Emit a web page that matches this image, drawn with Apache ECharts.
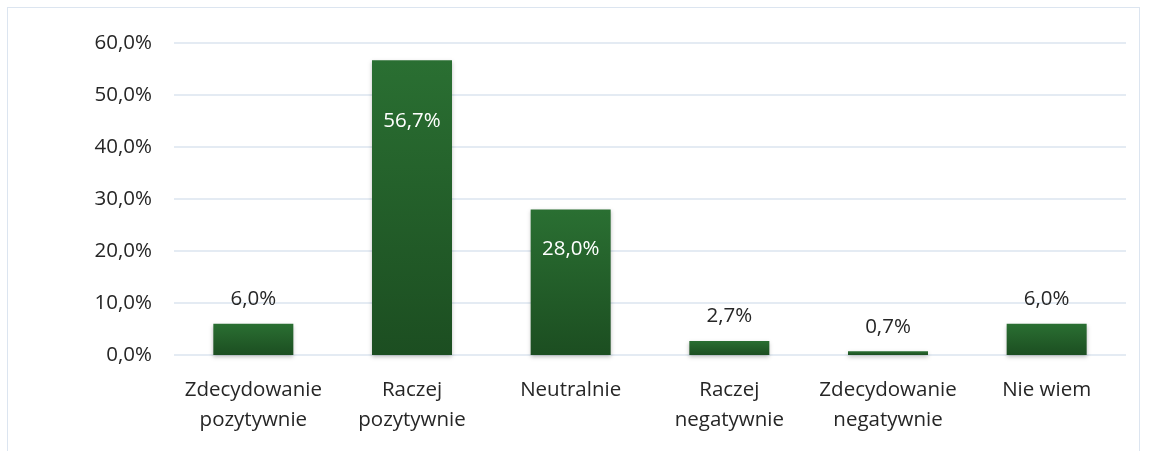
<!DOCTYPE html>
<html><head><meta charset="utf-8">
<script src="https://cdn.jsdelivr.net/npm/echarts@6/dist/echarts.min.js"></script>
<style>
html,body{margin:0;padding:0;background:#fff;}
#frame{position:absolute;left:7px;top:7px;width:1133px;height:450px;border:1px solid #dce5f0;box-sizing:border-box;}
#c{position:absolute;left:0;top:0;width:1149px;height:451px;}
</style></head>
<body>
<div id="frame"></div>
<div id="c"></div>
<script>
const categories = ['Zdecydowanie\npozytywnie','Raczej\npozytywnie','Neutralnie','Raczej\nnegatywnie','Zdecydowanie\nnegatywnie','Nie wiem'];
const values = [6.0, 56.7, 28.0, 2.7, 0.7, 6.0];
const yTicks = [0, 10, 20, 30, 40, 50, 60];
const fmt = v => v.toFixed(1).replace('.', ',') + '%';
const font = "'Open Sans', 'Noto Sans', sans-serif";
const fs = 20.5;
const chart = echarts.init(document.getElementById('c'));
const data = values.map((v, i) => {
  let label;
  if (v > 20) {
    label = {position: 'insideTop', distance: v > 50 ? 50 : 29, color: '#ffffff'};
  } else {
    label = {position: 'top', distance: 14, color: '#262626'};
  }
  return {value: v, label};
});
chart.setOption({
  animation: false,
  grid: {left: 174, right: 23, top: 43, bottom: 96},
  xAxis: {
    type: 'category', data: categories,
    axisLine: {show: false}, axisTick: {show: false},
    axisLabel: {fontFamily: font, fontSize: fs, color: '#262626', lineHeight: 30, margin: 20, interval: 0}
  },
  yAxis: {
    type: 'value', min: yTicks[0], max: yTicks[yTicks.length-1], interval: 10,
    axisLabel: {fontFamily: font, fontSize: fs, color: '#262626', margin: 22, formatter: v => fmt(v)},
    splitLine: {lineStyle: {color: '#dbe4ef', width: 1.5}},
    axisLine: {show: false}, axisTick: {show: false}
  },
  series: [{
    type: 'bar', data: data, barWidth: 80,
    itemStyle: {
      color: new echarts.graphic.LinearGradient(0, 0, 0, 1, [{offset: 0, color: '#2a6f32'}, {offset: 1, color: '#1c4e21'}]),
      shadowColor: 'rgba(0,0,0,0.25)', shadowBlur: 4, shadowOffsetY: 2
    },
    label: {show: true, fontFamily: font, fontSize: fs, formatter: p => fmt(p.value)}
  }]
});
</script>
</body></html>
